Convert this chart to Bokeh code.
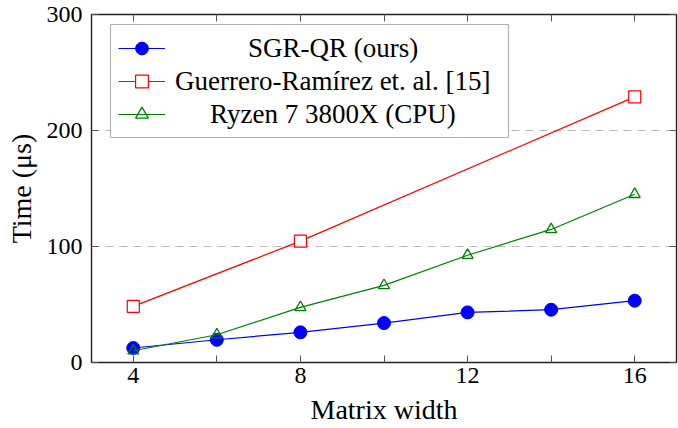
from bokeh.plotting import figure
from bokeh.models import (Range1d, FixedTicker, LinearAxis, Legend, LegendItem,
                          BoxAnnotation)
from bokeh.embed import file_html
from bokeh.resources import INLINE

# ---- data ----
widths = [4, 6, 8, 10, 12, 14, 16]
sgr_qr = [12.5, 19.6, 26.0, 34.0, 43.2, 45.5, 53.3]
guerrero_x = [4, 8, 16]
guerrero = [48.4, 104.6, 229.0]
ryzen = [10.1, 23.9, 47.5, 66.5, 92.5, 114.7, 145.0]
x_tick_labels = {4: "4", 8: "8", 12: "12", 16: "16"}
y_ticks = [0, 100, 200, 300]
series_names = ["SGR-QR (ours)", "Guerrero-Ramírez et. al. [15]", "Ryzen 7 3800X (CPU)"]
x_title = "Matrix width"
y_title = "Time (μs)"

FONT = "Liberation Serif"
BLUE = "#0000ff"
RED = "#ff0000"
GREEN = "#008000"
TICK_COLOR = "#555555"

p = figure(width=678, height=428,
           x_range=Range1d(3, 17), y_range=Range1d(0, 300),
           output_backend="svg", toolbar_location=None,
           min_border_left=91, min_border_right=2,
           min_border_top=14, min_border_bottom=66,
           background_fill_color="white", border_fill_color="white")

p.outline_line_color = "#222222"
p.outline_line_width = 1.4

# grid
p.xgrid.visible = False
p.ygrid.ticker = FixedTicker(ticks=y_ticks)
p.ygrid.grid_line_color = "#bbbbbb"
p.ygrid.grid_line_width = 1.2
p.ygrid.grid_line_dash = "8 6"

# series
l1 = p.line(widths, sgr_qr, line_color=BLUE, line_width=1.2)
m1 = p.scatter(widths, sgr_qr, marker="circle", size=13,
               fill_color=BLUE, line_color=BLUE)
l2 = p.line(guerrero_x, guerrero, line_color=RED, line_width=1.2)
m2 = p.scatter(guerrero_x, guerrero, marker="square", size=12,
               fill_color="white", line_color=RED, line_width=1.2)
l3 = p.line(widths, ryzen, line_color=GREEN, line_width=1.2)
m3 = p.scatter(widths, ryzen, marker="triangle", size=11,
               fill_color=None, line_color=GREEN, line_width=1.3)

# axes
def style_axis(ax):
    ax.axis_line_color = None
    ax.major_tick_in = 7
    ax.major_tick_out = 0
    ax.major_tick_line_color = TICK_COLOR
    ax.major_tick_line_width = 1
    ax.minor_tick_line_color = None

xa = p.xaxis[0]
xa.ticker = FixedTicker(ticks=widths)
xa.major_label_overrides = {w: x_tick_labels.get(w, "") for w in widths}
style_axis(xa)
xa.major_label_text_font = FONT
xa.major_label_text_font_size = "24px"
xa.major_label_text_color = "black"
xa.major_label_standoff = 5
xa.axis_label = x_title
xa.axis_label_text_font = FONT
xa.axis_label_text_font_size = "28px"
xa.axis_label_text_font_style = "normal"
xa.axis_label_text_color = "black"
xa.axis_label_standoff = 8

ya = p.yaxis[0]
ya.ticker = FixedTicker(ticks=y_ticks)
style_axis(ya)
ya.major_label_text_font = FONT
ya.major_label_text_font_size = "24px"
ya.major_label_text_color = "black"
ya.major_label_standoff = 9
ya.axis_label = y_title
ya.axis_label_text_font = FONT
ya.axis_label_text_font_size = "28px"
ya.axis_label_text_font_style = "normal"
ya.axis_label_text_color = "black"
ya.axis_label_standoff = 7

top = LinearAxis(ticker=FixedTicker(ticks=widths),
                 major_label_overrides={w: "" for w in widths},
                 major_label_text_font_size="0px", major_label_standoff=0)
style_axis(top)
p.add_layout(top, "above")

right = LinearAxis(ticker=FixedTicker(ticks=y_ticks),
                   major_label_overrides={t: "" for t in y_ticks},
                   major_label_text_font_size="0px", major_label_standoff=0)
style_axis(right)
p.add_layout(right, "right")

# legend frame (pixel layout, canvas units)
legend_box = BoxAnnotation(left=110, right=508, top=24, bottom=137,
                           left_units="canvas", right_units="canvas",
                           top_units="canvas", bottom_units="canvas",
                           fill_color="white", fill_alpha=1.0,
                           line_color="black", line_width=1.2)
p.add_layout(legend_box)

# one legend per row so every label can sit centred in the box
rows = [
    (series_names[0], [l1, m1], 298, 83),
    (series_names[1], [l2, m2], 265, 10),
    (series_names[2], [l3, m3], 232, 45),
]
for name, rends, vy, standoff in rows:
    lg = Legend(items=[LegendItem(label=name, renderers=rends)],
                location=(27, vy), margin=0, padding=0, spacing=0,
                glyph_width=47, glyph_height=32, label_height=32,
                label_standoff=standoff, label_text_font=FONT,
                label_text_font_size="27px", label_text_color="black",
                border_line_color=None, background_fill_alpha=0.0)
    p.add_layout(lg)

open("out.html", "w").write(file_html(p, INLINE))
